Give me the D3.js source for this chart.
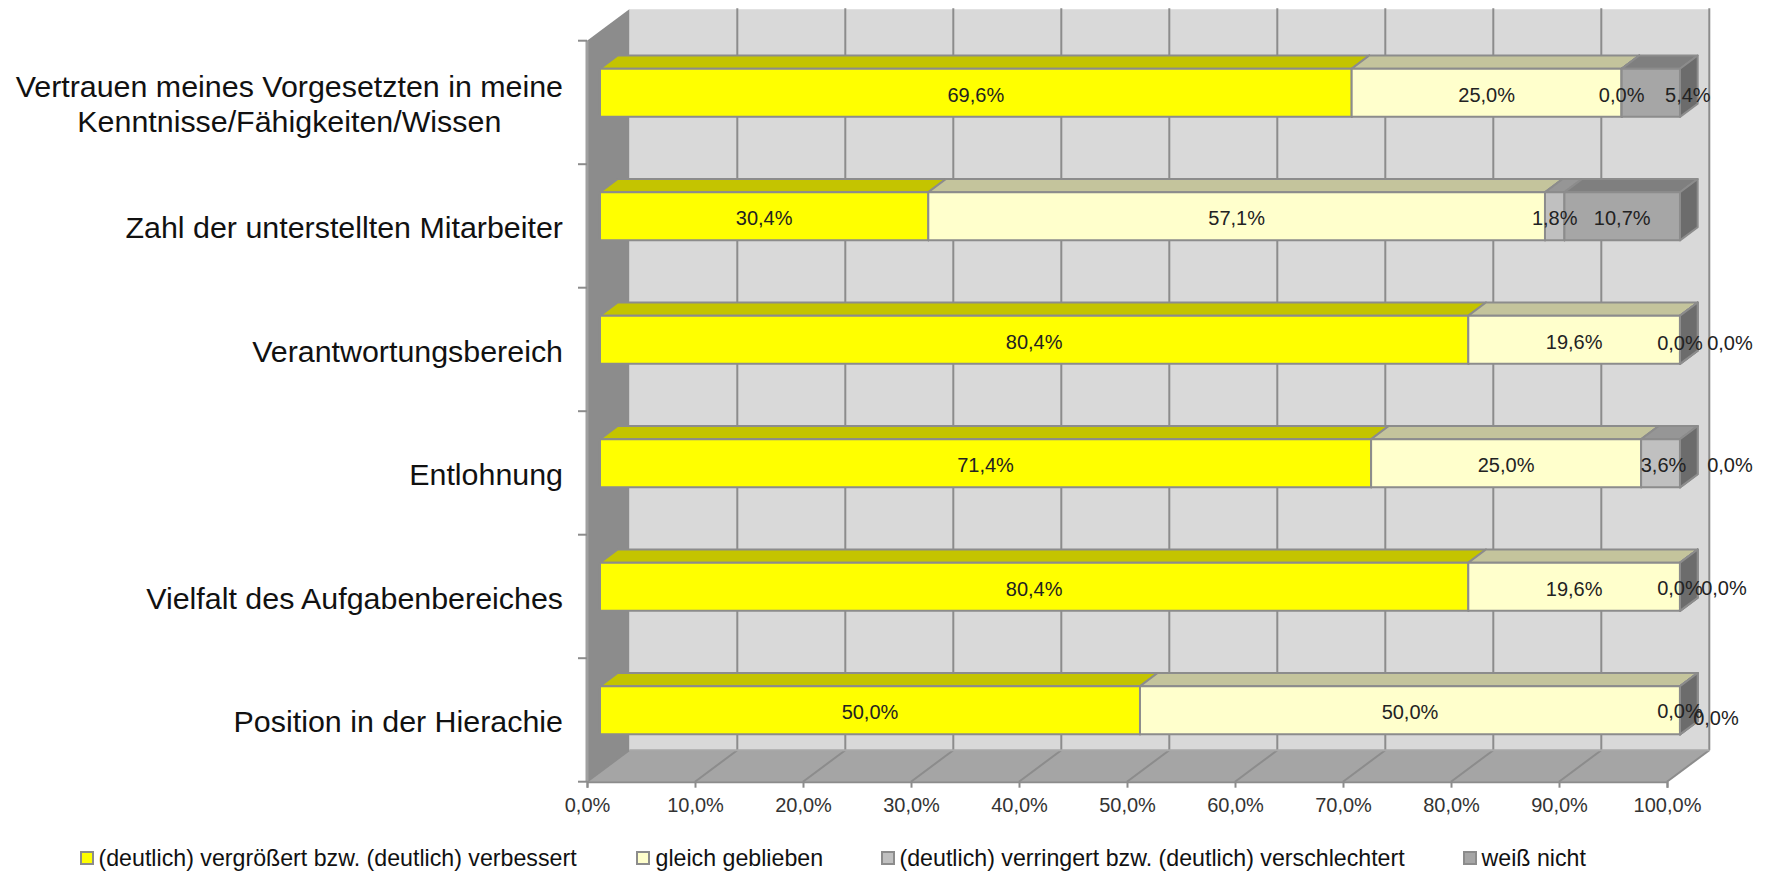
<!DOCTYPE html>
<html><head><meta charset="utf-8">
<script src="https://cdn.jsdelivr.net/npm/d3@7/dist/d3.min.js"></script>
<style>html,body{margin:0;padding:0;background:#fff}svg{display:block}text{font-family:"Liberation Sans",Arial,sans-serif}</style>
</head><body><svg id="c" width="1765" height="871"></svg>
<script>
const categories = [
  ["Vertrauen meines Vorgesetzten in meine","Kenntnisse/Fähigkeiten/Wissen"],
  ["Zahl der unterstellten Mitarbeiter"],
  ["Verantwortungsbereich"],
  ["Entlohnung"],
  ["Vielfalt des Aufgabenbereiches"],
  ["Position in der Hierachie"]
];
const seriesNames = [
  "(deutlich) vergrößert bzw. (deutlich) verbessert",
  "gleich geblieben",
  "(deutlich) verringert bzw. (deutlich) verschlechtert",
  "weiß nicht"
];
const vergroessert = [69.6,30.4,80.4,71.4,80.4,50.0];
const gleich       = [25.0,57.1,19.6,25.0,19.6,50.0];
const verringert   = [0.0,1.8,0.0,3.6,0.0,0.0];
const weissNicht   = [5.4,10.7,0.0,0.0,0.0,0.0];
const xTicks = [0,10,20,30,40,50,60,70,80,90,100];

const seriesValues = [vergroessert,gleich,verringert,weissNicht];
const frontFill = ["#ffff00","#ffffcc","#c0c0c0","#a6a6a6"];
const topFill   = ["#c4c400","#c4c49c","#969696","#7f7f7f"];
const sideFill  = ["#a0a000","#a3a385","#808080","#6c6c6c"];
const edge = "#8c8c8c";

// manual label nudges [dx,dy] keyed "row-series" (layout only)
const nudge = {"0-3":[37,2],"2-2":[0,3],"2-3":[50,3],"3-2":[3,2],"3-3":[50,2],"4-2":[0,1],"4-3":[44,1],"5-2":[0,1],"5-3":[36,8]};

const svg = d3.select("#c");
const xLeft=587, xRight=1667, yTop=40.7, yBottom=781.7;
const DX=42.3, DY=-31.5;            // floor depth vector
const zF=0.307, zB=0.725;           // bar front/back depth fraction
const x = d3.scaleLinear().domain([0,100]).range([xLeft,xRight]);
const y = d3.scaleBand().domain(d3.range(categories.length)).range([yTop,yBottom]).paddingInner(0.61).paddingOuter(0.305);
const step = y.step();
const poly = (pts,fill,st,sw)=>svg.append("polygon").attr("points",pts.map(p=>p.join(",")).join(" ")).attr("fill",fill).attr("stroke",st||"none").attr("stroke-width",sw||0).attr("stroke-linejoin","round");

// walls
poly([[xLeft+DX,yTop+DY],[xRight+DX,yTop+DY],[xRight+DX,yBottom+DY],[xLeft+DX,yBottom+DY]],"#d9d9d9");
poly([[xLeft,yTop],[xLeft+DX,yTop+DY],[xLeft+DX,yBottom+DY],[xLeft,yBottom]],"#8c8c8c");
poly([[xLeft,yBottom],[xLeft+DX,yBottom+DY],[xRight+DX,yBottom+DY],[xRight,yBottom]],"#a5a5a5");

// gridlines
xTicks.forEach(t=>{
  svg.append("line").attr("x1",x(t)+DX).attr("x2",x(t)+DX).attr("y1",yTop+DY-1).attr("y2",yBottom+DY).attr("stroke",edge).attr("stroke-width",t===0?0:2);
  svg.append("line").attr("x1",x(t)).attr("x2",x(t)+DX).attr("y1",yBottom).attr("y2",yBottom+DY).attr("stroke",edge).attr("stroke-width",2);
});
svg.append("line").attr("x1",xLeft+DX).attr("x2",xRight+DX).attr("y1",yBottom+DY).attr("y2",yBottom+DY).attr("stroke","#a8a8a8").attr("stroke-width",2);

// left axis line + ticks
svg.append("line").attr("x1",xLeft).attr("x2",xLeft).attr("y1",yTop).attr("y2",yBottom).attr("stroke","#a0a0a0").attr("stroke-width",3);
d3.range(categories.length+1).forEach(i=>{
  svg.append("line").attr("x1",xLeft-9).attr("x2",xLeft).attr("y1",yTop+i*step).attr("y2",yTop+i*step).attr("stroke",edge).attr("stroke-width",2);
});

// bottom axis
const ax = svg.append("g").attr("transform",`translate(0,${yBottom})`)
  .call(d3.axisBottom(x).tickValues(xTicks).tickSize(6).tickPadding(10.5).tickFormat(d=>d.toFixed(1).replace(".",",")+"%"));
ax.select(".domain").attr("stroke",edge).attr("stroke-width",2);
ax.selectAll(".tick line").attr("stroke",edge).attr("stroke-width",2);
ax.selectAll("text").attr("font-size",20).attr("fill","#333").style("font-family",'"Liberation Sans",Arial,sans-serif');

// bars
const fx=DX*zF, bx=DX*zB, fy=DY*zF, by=DY*zB;
categories.forEach((c,i)=>{
  const y0=y(i)+fy, y1=y0+y.bandwidth();
  let cum=0;
  seriesValues.forEach((vals,s)=>{
    const a=x(cum)+fx, b=x(cum+vals[i])+fx;
    const d=bx-fx, e=by-fy;
    poly([[a,y0],[a+d,y0+e],[b+d,y0+e],[b,y0]],topFill[s],edge,2);
    poly([[b,y0],[b+d,y0+e],[b+d,y1+e],[b,y1]],sideFill[s],edge,2);
    poly([[a,y0],[b,y0],[b,y1],[a,y1]],frontFill[s],edge,2);
    cum+=vals[i];
  });
});
// labels above bars
categories.forEach((c,i)=>{
  const cy=y(i)+fy+y.bandwidth()/2;
  let cum=0;
  seriesValues.forEach((vals,s)=>{
    const n=nudge[i+"-"+s]||[0,2];
    svg.append("text").attr("x",x(cum+vals[i]/2)+fx+n[0]).attr("y",cy+n[1]).attr("dy","0.35em").attr("text-anchor","middle")
      .attr("font-size",20).attr("fill","#222").text(vals[i].toFixed(1).replace(".",",")+"%");
    cum+=vals[i];
  });
});
// category labels
categories.forEach((c,i)=>{
  const cy=y(i)+y.bandwidth()/2+1.5;
  if(c.length===1){
    svg.append("text").attr("x",563).attr("y",cy).attr("dy","0.35em").attr("text-anchor","end").attr("font-size",30.4).attr("fill","#111").text(c[0]);
  } else {
    const w=[];
    c.forEach((l,k)=>{
      const t=svg.append("text").attr("y",cy+(k-0.5)*35).attr("dy","0.35em").attr("text-anchor","middle").attr("font-size",30.4).attr("fill","#111").text(l);
      w.push(t);
    });
    const mw=d3.max(w,t=>t.node().getComputedTextLength());
    w.forEach(t=>t.attr("x",563-mw/2));
  }
});
// legend
const legX=[81,637,882,1464], legTextX=[98.5,655.5,899.5,1481.5], legY=858;
seriesNames.forEach((n,s)=>{
  svg.append("rect").attr("x",legX[s]).attr("y",legY-6).attr("width",12).attr("height",12).attr("fill",frontFill[s]).attr("stroke",edge).attr("stroke-width",2);
  svg.append("text").attr("x",legTextX[s]).attr("y",legY).attr("dy","0.35em").attr("font-size",23.2).attr("fill","#111").text(n);
});
</script></body></html>
